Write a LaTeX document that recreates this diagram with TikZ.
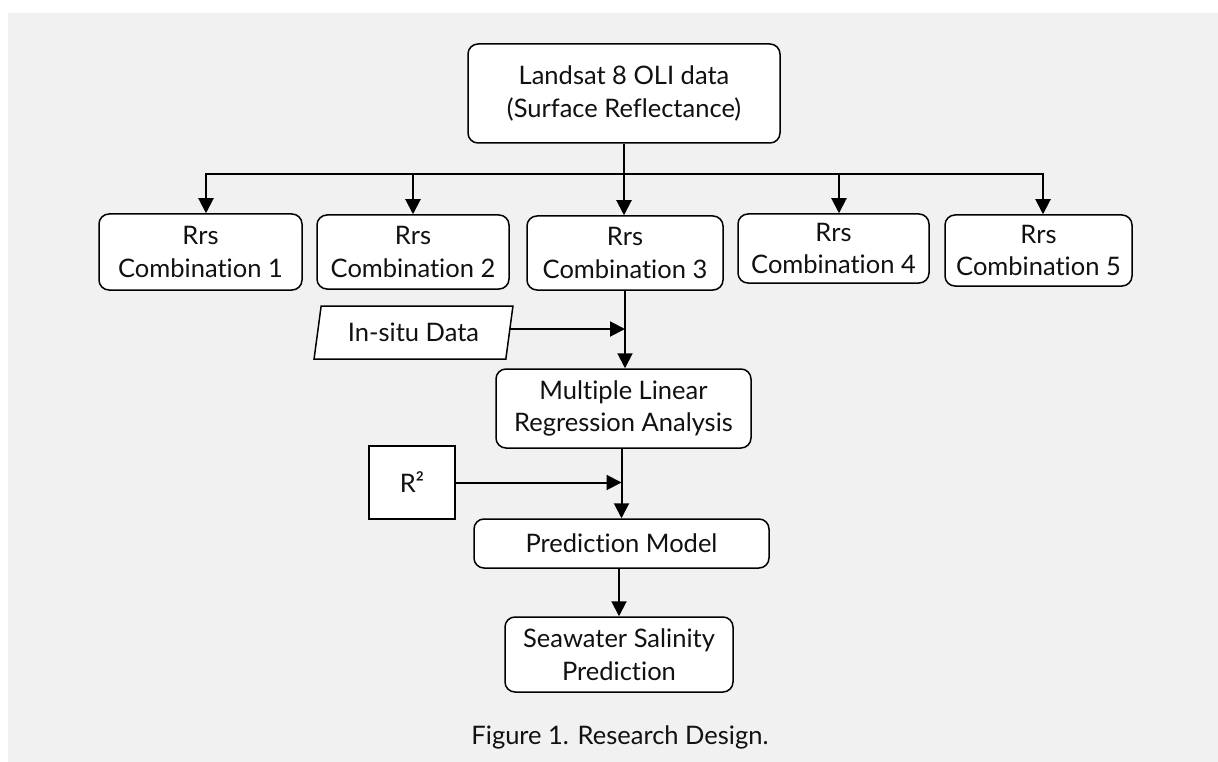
\documentclass[tikz,border=0pt]{standalone}
\usepackage{fontspec}
\setmainfont{Lato}[RawFeature=-liga]
\usetikzlibrary{arrows.meta,shapes.geometric,calc}
\definecolor{bggray}{HTML}{F1F1F1}
\definecolor{ink}{HTML}{111111}
\begin{document}
\begin{tikzpicture}[x=1pt,y=-1pt,
  txt/.style={font=\fontsize{25.5}{32.5}\selectfont, text=ink},
  box/.style={txt, draw=black, line width=1.5pt, fill=white, rounded corners=10pt, align=center, inner sep=0pt},
  sqbox/.style={txt, draw=black, line width=1.5pt, fill=white, align=center, inner sep=0pt},
  conn/.style={line width=2pt, draw=black},
  arr/.style={conn, -{Triangle[length=15pt,width=15pt]}}
]
\useasboundingbox (0,0) rectangle (1218,762);
\fill[white] (0,0) rectangle (1218,762);
\fill[bggray] (8,13) rectangle (1218,762);

\node[box, minimum width=312pt, minimum height=99pt] (top) at (624,93.5) {Landsat 8 OLI data\\(Surface Reflectance)};

\node[box, minimum width=203pt, minimum height=76pt] (c1) at (200.5,252) {Rrs\\Combination 1};
\node[box, minimum width=192pt, minimum height=74pt] (c2) at (413,252) {Rrs\\Combination 2};
\node[box, minimum width=196pt, minimum height=74pt] (c3) at (625,253) {Rrs\\Combination 3};
\node[box, minimum width=191pt, minimum height=69pt] (c4) at (833.5,248.5) {Rrs\\Combination 4};
\node[box, minimum width=187pt, minimum height=71pt] (c5) at (1038.5,250.5) {Rrs\\Combination 5};

\node[txt, draw=black, line width=1.5pt, fill=white, trapezium, trapezium left angle=75, trapezium right angle=105,
      trapezium stretches=true, minimum width=199pt, minimum height=53pt, inner sep=0pt] (insitu) at (413.5,332.5) {In-situ Data};

\node[box, minimum width=255pt, minimum height=79pt] (mlr) at (623.5,408.5) {Multiple Linear\\Regression Analysis};
\node[sqbox, minimum width=86pt, minimum height=73pt] (r2) at (412,482.5) {R²};
\node[box, minimum width=295pt, minimum height=49pt] (pm) at (621.5,543.5) {Prediction Model};
\node[box, minimum width=228pt, minimum height=75pt] (sw) at (619,654.5) {Seawater Salinity\\Prediction};

\node[txt] (cap) at (620,737) {Figure 1. Research Design.};

\coordinate (j) at (624,174);
\draw[conn] (top.south) -- (j);
\draw[arr] (j) -| ([xshift=5.5pt]c1.north);
\draw[arr] (j) -| (c2.north);
\draw[arr] (j) -- (j |- c3.north);
\draw[arr] (j) -| ([xshift=5.5pt]c4.north);
\draw[arr] (j) -| ([xshift=4.5pt]c5.north);

\draw[arr] ([yshift=3.5pt]insitu.east) -- ([yshift=3.5pt]insitu.east -| c3.south);
\draw[arr] (c3.south) -- (c3.south |- mlr.north);

\draw[arr] (r2.east) -- (r2.east -| pm.north);
\draw[arr] (pm.north |- mlr.south) -- (pm.north);

\draw[arr] (sw.north |- pm.south) -- (sw.north);
\end{tikzpicture}
\end{document}
